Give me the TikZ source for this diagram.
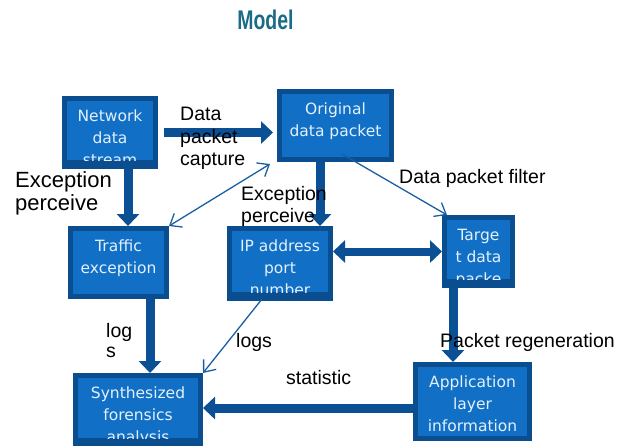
\documentclass[tikz,border=0pt]{standalone}
\usepackage{graphicx}
\usepackage{fontspec}
\setmainfont{Liberation Sans}
\newfontfamily\boxfont{DejaVu Sans}
\usetikzlibrary{arrows.meta}
\definecolor{boxfill}{HTML}{1170C6}
\definecolor{boxedge}{HTML}{0B4E90}
\definecolor{arrowdark}{HTML}{0B5094}
\definecolor{thinblue}{HTML}{1A5FA2}
\definecolor{boxword}{HTML}{E4F0FB}
\definecolor{titleteal}{HTML}{1C6B86}

\begin{document}
\begin{tikzpicture}[x=1pt,y=-1pt,
    blockbox/.style={fill=boxedge, inner sep=0pt, outer sep=0pt},
    boxtext/.style={text=boxword, font=\boxfont\fontsize{15.5}{22}\selectfont, align=center, inner sep=0pt},
    bigarrow/.style={draw=arrowdark, line width=9pt, -{Triangle[width=22pt,length=12pt]}},
    twoway/.style={draw=arrowdark, line width=8pt, {Triangle[width=22pt,length=12pt]}-{Triangle[width=22pt,length=12pt]}},
    thinarrow/.style={draw=thinblue, line width=1.3pt, -{Straight Barb[length=10pt,width=16pt]}},
    note/.style={font=\fontsize{19.5}{22.5}\selectfont, inner sep=0pt, align=left}]
    \useasboundingbox (0,0) rectangle (628,445);

    % title
    \node[font=\bfseries\fontsize{27}{30}\selectfont, text=titleteal, anchor=base, inner sep=0pt] (title) at (265.5,29.3) {\scalebox{0.72}[1]{Model}};

    % boxes
    \node[blockbox, minimum width=96pt, minimum height=73pt] (net) at (110,132.5) {};
    \node[blockbox, minimum width=117pt, minimum height=73pt] (orig) at (335.5,125.5) {};
    \node[blockbox, minimum width=101pt, minimum height=73pt] (traf) at (118.5,262.5) {};
    \node[blockbox, minimum width=106pt, minimum height=75pt] (ip) at (280,263.5) {};
    \node[blockbox, minimum width=73pt, minimum height=73pt] (targ) at (478.5,251.5) {};
    \node[blockbox, minimum width=130pt, minimum height=74pt] (synth) at (138,410) {};
    \node[blockbox, minimum width=119pt, minimum height=79pt] (app) at (472.5,401.5) {};

    % inner panels and their texts, cut off at the panel edge
    \foreach \b/\d/\t in {net/9/{Network\\data\\stream}, orig/5/{Original\\data packet},
        traf/5/{Traffic\\exception}, ip/9/{IP address\\port\\number}, targ/9/{Targe\\t data\\packe},
        synth/9/{Synthesized\\forensics\\analysis}, app/5/{Application\\layer\\information}} {
      \fill[boxfill] ([xshift=5pt,yshift=-5pt]\b.north west) rectangle ([xshift=-5pt,yshift=\d pt]\b.south east);
      \begin{scope}
        \clip ([xshift=5pt,yshift=-5pt]\b.north west) rectangle ([xshift=-5pt,yshift=\d pt]\b.south east);
        \node[boxtext, anchor=north] (\b text) at ([yshift=-13.5pt]\b.north) {\t};
      \end{scope}
    }

    % thick arrows
    \draw[bigarrow, shorten >=4pt] ([xshift=6pt]net.east) -- (orig.west |- net.east);
    \draw[bigarrow] ([xshift=18pt]net.south) -- ([xshift=18pt]net.south |- traf.north);
    \draw[bigarrow] ([xshift=-15.5pt]orig.south) -- ([xshift=-15.5pt]orig.south |- ip.north);
    \draw[twoway] (ip.east |- targ.west) -- (targ.west);
    \draw[bigarrow] ([xshift=-25.5pt]targ.south) -- ([xshift=-25.5pt]targ.south |- app.north);
    \draw[bigarrow] ([xshift=31.5pt]traf.south) -- ([xshift=31.5pt]traf.south |- synth.north);
    \draw[bigarrow] ([yshift=-6.5pt]app.west) -- ([yshift=-6.5pt]app.west -| synth.east);

    % thin arrows
    \draw[thinarrow, {Straight Barb[length=10pt,width=16pt]}-{Straight Barb[length=10pt,width=16pt]}] (traf.north east) -- ([xshift=-7pt,yshift=-2pt]orig.south west);
    \draw[thinarrow] ([xshift=6.5pt,yshift=8pt]orig.south) -- ([xshift=5pt]targ.north west);
    \draw[thinarrow] ([xshift=-18pt,yshift=2pt]ip.south) -- (synth.north east);

    % labels
    \node[note, anchor=north west] (capture) at (180,107) {Data\\packet\\capture};
    \node[note, font=\fontsize{22}{23}\selectfont, anchor=north west] (perceiveleft) at (15,171) {Exception\\perceive};
    \node[note, anchor=north west] (perceivemid) at (241,186) {Exception\\perceive};
    \node[note, anchor=base west] (filter) at (399,183) {Data packet filter};
    \node[note, font=\fontsize{19.5}{20.5}\selectfont, anchor=north west] (logsleft) at (106,323) {log\\s};
    \node[note, anchor=base west] (logsmid) at (236,347) {logs};
    \node[note, anchor=base west] (regen) at (440,347) {Packet regeneration};
    \node[note, anchor=base west] (stat) at (286,384) {statistic};
\end{tikzpicture}
\end{document}
